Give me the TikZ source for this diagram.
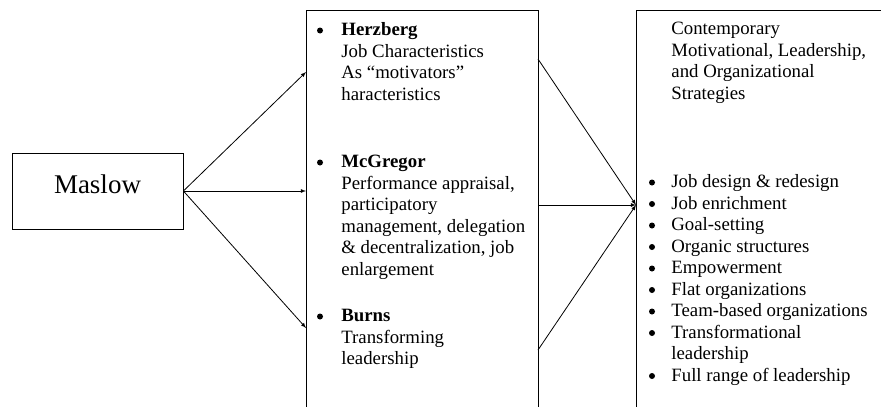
\documentclass[tikz,border=0pt]{standalone}
\usepackage{fontspec}
\setmainfont{Liberation Serif}
\usetikzlibrary{positioning}

\begin{document}
\begin{tikzpicture}[x=1pt, y=-1pt, >=latex, line width=0.8pt]

        % Setup the styles for the boxes and texts
        \tikzset{box style/.style={draw,
                                   rectangle,
                                   inner sep=0pt,
                                   anchor=north west},
                 text style/.style={anchor=base west,
                                    align=left,
                                    inner sep=0pt,
                                    font=\fontsize{18.8}{21.5}\selectfont},
                 dot style/.style={circle,
                                   fill,
                                   inner sep=0pt,
                                   minimum size=6pt}}

        \useasboundingbox (0,0) rectangle (881,407);
        \clip (0,0) rectangle (881,407);

        % Draw the boxes
        \node[draw, minimum width=171pt, minimum height=76pt, inner sep=0pt,
              text depth=14pt, font=\fontsize{27}{30}\selectfont]
              at (97.5,191)   (maslow)  {Maslow};
        \node[box style, minimum width=232pt, minimum height=420pt] at (306,10) (theories) {};
        \node[box style, minimum width=260pt, minimum height=420pt] at (636,10) (strategies) {};

        % Texts of the middle box (placed by the baseline of their last line)
        \node[text style] at (341,100)   (herzberg) {\textbf{Herzberg}\\Job Characteristics\\As ``motivators''\\haracteristics};
        \node[text style] at (341,275)   (mcgregor) {\textbf{McGregor}\\Performance appraisal,\\participatory\\management, delegation\\\& decentralization, job\\enlargement};
        \node[text style] at (341,364.5) (burns)    {\textbf{Burns}\\Transforming\\leadership};
        \foreach \y [count=\i] in {35.5,167.5,321.5}
            \node[dot style] at (320,\y-5) (dotm\i) {};

        % Texts of the right box
        \node[text style] at (671,99) (contemporary) {Contemporary\\Motivational, Leadership,\\and Organizational\\Strategies};
        \node[text style] at (671,381) (list)
            {Job design \& redesign\\Job enrichment\\Goal-setting\\Organic structures\\Empowerment\\Flat organizations\\Team-based organizations\\Transformational\\leadership\\Full range of leadership};
        \foreach \i in {0,...,7,9}
            \node[dot style] at (652,187.5+21.5*\i-5) (dotr\i) {};

        % End points on the box borders
        \coordinate (inHerzberg)  at (306,72);
        \coordinate (inBurns)     at (306,328);
        \coordinate (outHerzberg) at (538,59);
        \coordinate (outMcGregor) at (538,205);
        \coordinate (outBurns)    at (538,350);
        \coordinate (inStrategies) at (636,205);

        % Connect the boxes with arrows
        \draw[->] (maslow.east) -- (inHerzberg);
        \draw[->] (maslow.east) -- (theories.west |- maslow.east);
        \draw[->] (maslow.east) -- (inBurns);
        \draw[->] (outHerzberg) -- (inStrategies);
        \draw[->] (outMcGregor) -- (inStrategies);
        \draw[->] (outBurns)    -- (inStrategies);
\end{tikzpicture}
\end{document}
